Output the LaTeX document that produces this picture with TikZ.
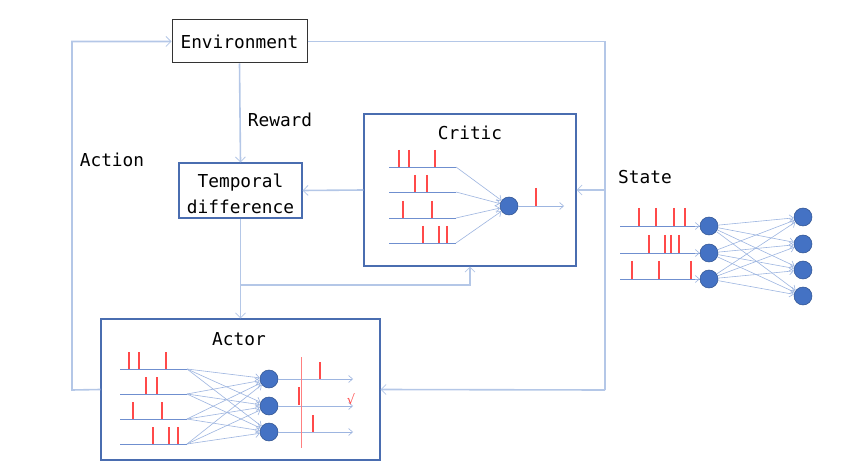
\documentclass[tikz,border=0pt]{standalone}
\usepackage{fontspec}
\setmainfont{DejaVu Sans}
\newfontfamily\monof{DejaVu Sans Mono}
\usetikzlibrary{arrows.meta}
\definecolor{conn}{HTML}{B4C7E7}
\definecolor{conn2}{HTML}{9DB5E0}
\definecolor{inl}{HTML}{6F8FCF}
\definecolor{boxb}{HTML}{4A6DB0}
\definecolor{neu}{HTML}{4472C4}
\definecolor{neub}{HTML}{2F528F}
\definecolor{spk}{HTML}{FF4A4A}
\tikzset{
  lbl/.style={font=\monof\fontsize{17.8}{26}\selectfont, inner sep=0pt, align=center},
  bluebox/.style={draw=boxb, line width=1.1pt, fill=white, inner sep=0pt},
  flowline/.style={draw=conn, line width=1.6pt},
  flow/.style={flowline, -{Straight Barb[length=5pt,width=10pt,line width=0.8pt]}},
  inline/.style={draw=inl, line width=0.8pt},
  netarrow/.style={draw=conn2, line width=0.6pt, -{Straight Barb[length=4pt,width=7pt,line width=0.6pt]}},
  neuron/.style={circle, fill=neu, draw=neub, line width=0.5pt, minimum size=18pt, inner sep=0pt},
  spike/.style={draw=spk, line width=1.5pt},
}
\begin{document}
\begin{tikzpicture}[x=1pt,y=-1pt]
\useasboundingbox (0,0) rectangle (848,470);

% boxes
\node[draw=black!80, line width=1pt, fill=white, minimum width=135pt, minimum height=43pt, lbl] (env) at (239.5,41.5) {Environment};
\node[bluebox, minimum width=123pt, minimum height=55pt] (td) at (240.5,190.5) {};
\node[lbl] (tdt) at (240.5,194) {Temporal\\difference};
\node[bluebox, minimum width=212pt, minimum height=152pt] (critic) at (470,190) {};
\node[lbl] (critict) at (470,133) {Critic};
\node[bluebox, minimum width=279pt, minimum height=141pt] (actor) at (240.5,389.5) {};
\node[lbl] (actort) at (239,339) {Actor};

% labels
\node[lbl] (reward) at (280,120) {Reward};
\node[lbl] (action) at (112,160) {Action};
\node[lbl] (state) at (645,177) {State};

% outer loop
\coordinate (tl) at (72,41.5);
\coordinate (tr) at (605,41.5);
\coordinate (br) at (605,390);
\coordinate (sr) at (605,190);
\coordinate (bl) at (72,390);
\draw[flow] (actor.west) -- (bl) -- (tl) -- (env.west);
\draw[flowline] (env.east) -- (tr) -- (br);
\draw[flow] (br) -- (actor.east);
\draw[flow] (sr) -- (critic.east);
\draw[flow] (env.south) -- (td.north);
\draw[flow] (critic.west) -- (td.east);
\draw[flow] (td.south) -- (actor.north);
\coordinate (brn) at (240.5,285);
\draw[flow] (brn) -| (critic.south);

% ---------- Critic network ----------
\node[neuron] (cn) at (509,206) {};
\foreach \y [count=\i] in {167,192,218,243}{
  \coordinate (ci\i) at (389,\y);
  \coordinate (ce\i) at (456,\y);
  \draw[inline] (ci\i) -- (ce\i);
  \draw[netarrow] (ce\i) -- (cn);
}
\coordinate (co) at (564,206);
\draw[netarrow] (cn) -- (co);
\foreach \x in {399,409,435}{\draw[spike] (\x,150) -- (\x,167);}
\foreach \x in {415,427}{\draw[spike] (\x,175) -- (\x,192);}
\foreach \x in {403,432}{\draw[spike] (\x,201) -- (\x,218);}
\foreach \x in {423,439,447}{\draw[spike] (\x,226) -- (\x,243);}
\draw[spike] (536,188) -- (536,206);

% ---------- Actor network ----------
\node[neuron] (a1) at (269,379) {};
\node[neuron] (a2) at (269,406) {};
\node[neuron] (a3) at (269,432) {};
\foreach \y [count=\i] in {369,394,419,444}{
  \coordinate (ai\i) at (120,\y);
  \coordinate (ae\i) at (187,\y);
  \draw[inline] (ai\i) -- (ae\i);
  \foreach \n in {a1,a2,a3}{\draw[netarrow] (ae\i) -- (\n);}
}
\coordinate (ao1) at (353,379);
\coordinate (ao2) at (353,406);
\coordinate (ao3) at (353,432);
\draw[netarrow] (a1) -- (ao1);
\draw[netarrow] (a2) -- (ao2);
\draw[netarrow] (a3) -- (ao3);
\draw[draw=spk!70, line width=0.5pt] (301,357) -- (301,448);
\foreach \x in {129,139,166}{\draw[spike] (\x,352) -- (\x,369);}
\foreach \x in {146,157}{\draw[spike] (\x,377) -- (\x,394);}
\foreach \x in {133,162}{\draw[spike] (\x,402) -- (\x,419);}
\foreach \x in {153,169,178}{\draw[spike] (\x,427) -- (\x,444);}
\draw[spike] (320,362) -- (320,379);
\draw[spike] (299,387) -- (299,405);
\draw[spike] (313,415) -- (313,432);
\node[text=spk, font=\fontsize{13}{14}\selectfont, inner sep=0pt] (chk) at (351,399) {√};

% ---------- State network ----------
\node[neuron] (s1) at (709,226) {};
\node[neuron] (s2) at (709,253) {};
\node[neuron] (s3) at (709,279) {};
\node[neuron] (o1) at (803,217) {};
\node[neuron] (o2) at (803,244) {};
\node[neuron] (o3) at (803,270) {};
\node[neuron] (o4) at (803,296) {};
\coordinate (si1) at (620,226);
\coordinate (si2) at (620,253);
\coordinate (si3) at (620,279);
\draw[inline] (si1) -- (s1.west);
\draw[inline] (si2) -- (s2.west);
\draw[inline] (si3) -- (s3.west);
\draw[netarrow] (695,226) -- (s1.west);
\draw[netarrow] (695,253) -- (s2.west);
\draw[netarrow] (695,279) -- (s3.west);
\foreach \s in {s1,s2,s3}{
  \foreach \o in {o1,o2,o3,o4}{\draw[netarrow] (\s) -- (\o);}
}
\foreach \x in {639,656,674,685}{\draw[spike] (\x,208) -- (\x,226);}
\foreach \x in {649,665,671,679}{\draw[spike] (\x,235) -- (\x,253);}
\foreach \x in {632,659,691}{\draw[spike] (\x,261) -- (\x,279);}
\end{tikzpicture}
\end{document}
